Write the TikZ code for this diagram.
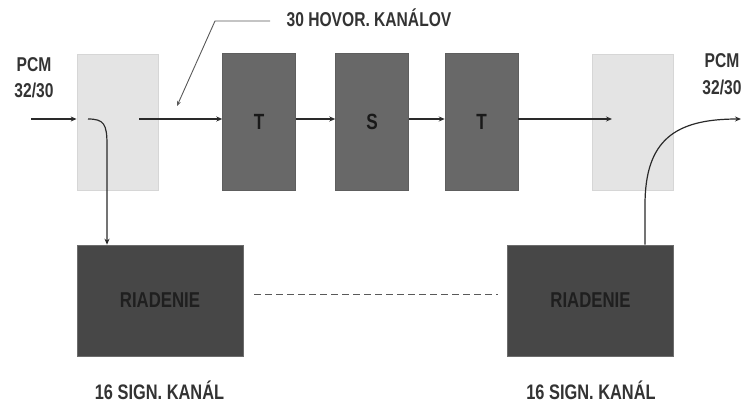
\documentclass[tikz,border=0pt]{standalone}
\usepackage{fontspec}
\setmainfont{Liberation Sans}[FakeStretch=0.78]
\usetikzlibrary{arrows.meta}
\definecolor{lightbox}{HTML}{E4E4E4}
\definecolor{lightedge}{HTML}{D6D6D6}
\definecolor{midbox}{HTML}{686868}
\definecolor{darkbox}{HTML}{474747}
\definecolor{txt}{HTML}{333333}
\definecolor{ln}{HTML}{2A2A2A}
\tikzset{
  lbox/.style={draw=lightedge, fill=lightbox, line width=0.8pt, minimum width=81pt, minimum height=136pt, inner sep=0pt},
  mbox/.style={draw=midbox!90!black, fill=midbox, line width=0.5pt, minimum width=73pt, minimum height=137pt, inner sep=0pt, font=\bfseries\fontsize{22}{22}\selectfont, text=black!90},
  rbox/.style={draw=darkbox!80!white, fill=darkbox, line width=0.6pt, minimum width=166pt, minimum height=111pt, inner sep=0pt, font=\bfseries\fontsize{21.5}{21.5}\selectfont, text=black!88},
  lbl/.style={text=txt, font=\bfseries\fontsize{20}{26.5}\selectfont, align=center, inner sep=0pt},
  conn/.style={draw=ln, line width=1.2pt, -{Stealth[length=6pt,width=5pt]}},
  leader/.style={draw=black!65, line width=0.9pt, -{Stealth[length=5pt,width=4pt]}}
}
\begin{document}
\begin{tikzpicture}[x=1pt,y=-1pt]
\useasboundingbox (0,0) rectangle (748,406);
% blocks
\node[lbox] (L) at (117.5,122) {};
\node[lbox] (R) at (632.5,122) {};
\node[mbox] (T1) at (259,121.5) {T};
\node[mbox] (S) at (372,121.5) {S};
\node[mbox] (T2) at (481.5,121.5) {T};
\node[rbox] (RL) at (160,300.5) {RIADENIE};
\node[rbox] (RR) at (590.5,300.5) {RIADENIE};
% labels
\node[lbl] (pcmL) at (34,77.5) {PCM\\32/30};
\node[lbl] (pcmR) at (722,74) {PCM\\32/30};
\node[lbl] (hov) at (369,18) {30 HOVOR. KANÁLOV};
\node[lbl, font=\bfseries\fontsize{21}{21}\selectfont] (sigL) at (159.5,390) {16 SIGN. KANÁL};
\node[lbl, font=\bfseries\fontsize{21}{21}\selectfont] (sigR) at (591,390) {16 SIGN. KANÁL};
% coordinates
\coordinate (in) at (31,119);
\coordinate (Lin) at (L.west |- 0,119);
\coordinate (Lout) at (139,119);
\coordinate (Lcurve) at (88,119);
\coordinate (Rtip) at (612,119);
\coordinate (outR) at (741,119);
\coordinate (lead1) at (270,21);
\coordinate (lead2) at (215,21);
\coordinate (leadtip) at (177,106);
% connectors
\draw[conn] (in) -- (Lin);
\draw[conn] (Lout) -- (T1.west |- Lout);
\draw[conn] (T1.east |- Lout) -- (S.west |- Lout);
\draw[conn] (S.east |- Lout) -- (T2.west |- Lout);
\draw[conn] (T2.east |- Lout) -- (Rtip);
\draw[conn] (Lcurve) .. controls (104,119) and (107,124) .. (107,145) -- (RL.north -| 107,0);
\draw[conn] (RR.north -| 645,0) -- (645,205) .. controls (645,140) and (675,119) .. (outR);
\draw[dashed, dash pattern=on 7pt off 4pt, draw=black!65, line width=1pt] (RL.east -| 254,0) ++(0,-5.5) coordinate (d1) -- (d1 -| 498,0);
\draw[leader] (lead1) -- (lead2) -- (leadtip);
\end{tikzpicture}
\end{document}
